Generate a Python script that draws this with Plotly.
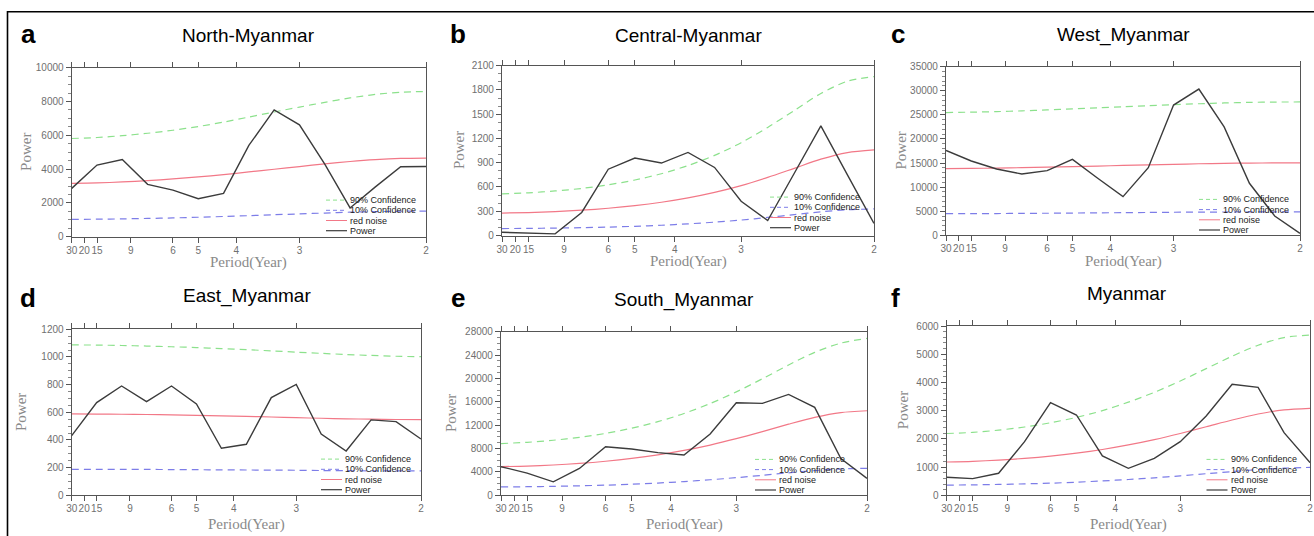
import plotly.graph_objects as go

W, H = 1314, 536

# ---------------- data ----------------
record_years = 30
harmonics = list(range(1, 16))          # spectral harmonics k (frequency = k / 30 yr)
period_ticks = [30, 20, 15, 9, 6, 5, 4, 3, 2]
period_tick_text = ["30", "20", "15", "9", "6", "5", "4", "3", "2"]
series_names = ["90% Confidence", "10% Confidence", "red noise", "Power"]

north_power = [2860, 4240, 4570, 3100, 2760, 2250, 2560, 5400, 7500, 6620, 4300, 1700, 2950, 4140, 4150]
north_red = [3150, 3180, 3240, 3320, 3420, 3540, 3670, 3830, 3990, 4150, 4310, 4450, 4560, 4630, 4650]
north_c90 = [5810, 5870, 5980, 6120, 6300, 6520, 6780, 7080, 7380, 7670, 7950, 8210, 8420, 8550, 8590]
north_c10 = [1025, 1035, 1055, 1080, 1110, 1150, 1195, 1245, 1300, 1350, 1400, 1450, 1485, 1505, 1515]

central_power = [40, 33, 20, 285, 820, 958, 896, 1027, 842, 423, 185, 770, 1355, 750, 150]
central_red = [277, 284, 296, 313, 337, 369, 411, 465, 533, 617, 719, 831, 944, 1026, 1060]
central_c90 = [515, 528, 551, 582, 627, 686, 764, 865, 991, 1148, 1337, 1546, 1756, 1908, 1965]
central_c10 = [86, 88, 92, 97, 104, 114, 127, 144, 165, 191, 223, 258, 293, 318, 329]

west_power = [17600, 15420, 13760, 12720, 13420, 15770, 11830, 8020, 14040, 27040, 30360, 22500, 10800, 4000, 400]
west_red = [13850, 13890, 13950, 14040, 14140, 14250, 14380, 14500, 14630, 14740, 14850, 14930, 14990, 15030, 15045]
west_c90 = [25480, 25560, 25670, 25830, 26020, 26230, 26450, 26690, 26910, 27120, 27310, 27470, 27590, 27660, 27680]
west_c10 = [4490, 4500, 4520, 4550, 4580, 4620, 4660, 4700, 4740, 4780, 4810, 4840, 4860, 4870, 4875]

east_power = [431, 670, 790, 677, 790, 660, 340, 369, 706, 802, 443, 320, 545, 533, 407]
east_red = [588, 587, 586, 584, 581, 578, 574, 570, 566, 561, 557, 553, 550, 548, 547]
east_c90 = [1087, 1086, 1083, 1079, 1074, 1068, 1061, 1053, 1044, 1035, 1026, 1018, 1011, 1005, 1002]
east_c10 = [188, 188, 187, 187, 186, 185, 184, 183, 182, 181, 179, 178, 177, 176, 176]

south_power = [4900, 3800, 2300, 4600, 8320, 7920, 7300, 6900, 10490, 15850, 15740, 17270, 15050, 6300, 2900]
south_red = [4900, 5010, 5190, 5460, 5830, 6310, 6920, 7680, 8600, 9690, 10900, 12170, 13340, 14160, 14470]
south_c90 = [8860, 9070, 9420, 9920, 10590, 11480, 12600, 14000, 15700, 17700, 19950, 22300, 24470, 26050, 26850]
south_c10 = [1430, 1470, 1530, 1620, 1740, 1900, 2100, 2350, 2660, 3020, 3420, 3850, 4230, 4510, 4620]

myanmar_power = [638, 590, 780, 1900, 3283, 2846, 1394, 957, 1311, 1900, 2811, 3933, 3827, 2220, 1157]
myanmar_red = [1181, 1205, 1247, 1307, 1388, 1492, 1623, 1784, 1973, 2191, 2428, 2668, 2881, 3029, 3083]
myanmar_c90 = [2190, 2230, 2310, 2420, 2570, 2760, 3000, 3300, 3650, 4050, 4490, 4930, 5320, 5590, 5680]
myanmar_c10 = [360, 370, 385, 405, 430, 465, 510, 560, 620, 690, 765, 840, 910, 960, 990]

# ---------------- layout config (pixels) ----------------
panels = [
    dict(letter="a", title="North-Myanmar", geom=(71.7, 426, 67.7, 236.7), yr=10000, dt=2000, mdt=500,
         data=(north_c90, north_c10, north_red, north_power), leg_x=348, leg_y=230.7,
         title_x=248.7, title_y=35.7, letter_x=28.3, letter_y=33.8, ylab_x=25.7, xlab_y=262.5),
    dict(letter="b", title="Central-Myanmar", geom=(502, 874, 65.7, 235.5), yr=2100, dt=300, mdt=100,
         data=(central_c90, central_c10, central_red, central_power), leg_x=792, leg_y=227.7,
         title_x=688, title_y=35.7, letter_x=458, letter_y=33.8, ylab_x=458.5, xlab_y=261.5),
    dict(letter="c", title="West_Myanmar", geom=(946, 1300, 66.7, 235.3), yr=35000, dt=5000, mdt=1000,
         data=(west_c90, west_c10, west_red, west_power), leg_x=1221, leg_y=230,
         title_x=1123, title_y=35, letter_x=897.5, letter_y=33.5, ylab_x=900.5, xlab_y=261.5),
    dict(letter="d", title="East_Myanmar", geom=(71.7, 421, 329.3, 495.3), yr=1200, dt=200, mdt=50,
         data=(east_c90, east_c10, east_red, east_power), leg_x=343, leg_y=489.7,
         title_x=246.7, title_y=296.5, letter_x=28.3, letter_y=297.5, ylab_x=21.7, xlab_y=524),
    dict(letter="e", title="South_Myanmar", geom=(501, 867, 331.7, 495.3), yr=28000, dt=4000, mdt=1000,
         data=(south_c90, south_c10, south_red, south_power), leg_x=777, leg_y=490,
         title_x=684, title_y=299.5, letter_x=457.5, letter_y=297.5, ylab_x=450.5, xlab_y=524),
    dict(letter="f", title="Myanmar", geom=(946.7, 1310, 326, 495.3), yr=6000, dt=1000, mdt=200,
         data=(myanmar_c90, myanmar_c10, myanmar_red, myanmar_power), leg_x=1228.5, leg_y=490,
         title_x=1126.7, title_y=293, letter_x=895, letter_y=297.5, ylab_x=902.5, xlab_y=524),
]

styles = [
    dict(color="rgb(140,225,140)", width=1.2, dash="7px,5px"),
    dict(color="rgb(125,125,232)", width=1.2, dash="7px,5px"),
    dict(color="rgb(242,120,135)", width=1.2, dash="solid"),
    dict(color="rgb(60,60,60)", width=1.4, dash="solid"),
]
shapes_kind = ["spline", "spline", "spline", "linear"]


def X(px):
    return px / W


def Y(py):
    return 1 - py / H


frequency = [k / record_years for k in harmonics]
tick_freq = [1 / p for p in period_ticks]

fig = go.Figure()
annotations = []
shapes = []
layout_axes = {}
grey = "#707070"

for i, p in enumerate(panels):
    n = i + 1
    xa = "x" if n == 1 else f"x{n}"
    ya = "y" if n == 1 else f"y{n}"
    x0, x1, yt, yb = p["geom"]
    for j, series in enumerate(p["data"]):
        st = styles[j]
        fig.add_trace(go.Scatter(
            x=frequency, y=series, mode="lines", name=series_names[j], showlegend=False,
            line=dict(color=st["color"], width=st["width"], dash=st["dash"], shape=shapes_kind[j],
                      smoothing=0.8 if shapes_kind[j] == "spline" else None),
            xaxis=xa, yaxis=ya, hoverinfo="skip", cliponaxis=False))
    layout_axes[f"xaxis{'' if n == 1 else n}"] = dict(
        domain=[X(x0), X(x1)], anchor=ya, range=[frequency[0], frequency[-1]],
        tickvals=tick_freq, ticktext=period_tick_text, tickangle=0, automargin=False,
        ticks="outside", ticklen=5, tickwidth=1, tickcolor="#555", ticklabelstandoff=-1,
        showline=True, linecolor="#555", linewidth=1.2, mirror="ticks",
        showgrid=False, zeroline=False,
        tickfont=dict(family="Liberation Sans", size=10, color=grey))
    layout_axes[f"yaxis{'' if n == 1 else n}"] = dict(
        domain=[Y(yb), Y(yt)], anchor=xa, range=[0, p["yr"]], dtick=p["dt"], tick0=0,
        tickformat="d", exponentformat="none", automargin=False,
        ticks="outside", ticklen=5, tickwidth=1, tickcolor="#555",
        minor=dict(dtick=p["mdt"], ticks="outside", ticklen=2.5, tickcolor="#888", tickwidth=0.8),
        showline=True, linecolor="#555", linewidth=1.2, mirror=True,
        showgrid=False, zeroline=False,
        tickfont=dict(family="Liberation Sans", size=10, color=grey))

    # texts
    annotations.append(dict(text=p["letter"], x=X(p["letter_x"]), y=Y(p["letter_y"]), xref="paper", yref="paper",
                            showarrow=False, xanchor="center", yanchor="middle",
                            font=dict(family="Liberation Sans", size=26, color="black", weight="bold")))
    annotations.append(dict(text=p["title"], x=X(p["title_x"]), y=Y(p["title_y"]), xref="paper", yref="paper",
                            showarrow=False, xanchor="center", yanchor="middle",
                            font=dict(family="Liberation Sans", size=19, color="black")))
    annotations.append(dict(text="Power", x=X(p["ylab_x"]), y=Y((yt + yb) / 2), xref="paper", yref="paper",
                            showarrow=False, xanchor="center", yanchor="middle", textangle=-90,
                            font=dict(family="Liberation Serif", size=15, color="#8a8a8a")))
    annotations.append(dict(text="Period(Year)", x=X((x0 + x1) / 2), y=Y(p["xlab_y"]), xref="paper", yref="paper",
                            showarrow=False, xanchor="center", yanchor="middle",
                            font=dict(family="Liberation Serif", size=15, color="#8a8a8a")))
    # legend
    for j, name in enumerate(series_names):
        ly = p["leg_y"] - (3 - j) * 10.2
        st = styles[j]
        shapes.append(dict(type="line", xref="paper", yref="paper",
                           x0=X(p["leg_x"] - 22), x1=X(p["leg_x"] - 1), y0=Y(ly), y1=Y(ly),
                           line=dict(color=st["color"], width=1 if j < 3 else 1.2,
                                     dash="4px,3px" if j < 2 else "solid")))
        annotations.append(dict(text=name, x=X(p["leg_x"]), y=Y(ly), xref="paper", yref="paper",
                                showarrow=False, xanchor="left", yanchor="middle",
                                font=dict(family="Liberation Sans", size=9, color="#222")))

# outer frame
shapes.append(dict(type="rect", xref="paper", yref="paper", x0=X(7.5), x1=X(1322), y0=Y(11.7), y1=Y(560),
                   line=dict(color="black", width=1.6), fillcolor="rgba(0,0,0,0)", layer="above"))

fig.update_layout(
    width=W, height=H, margin=dict(l=0, r=0, t=0, b=0, autoexpand=False),
    paper_bgcolor="white", plot_bgcolor="white",
    annotations=annotations, shapes=shapes, showlegend=False,
    **layout_axes)

fig.write_html("out.html", config={"displayModeBar": False},
               post_script="document.body.style.margin='0';")
